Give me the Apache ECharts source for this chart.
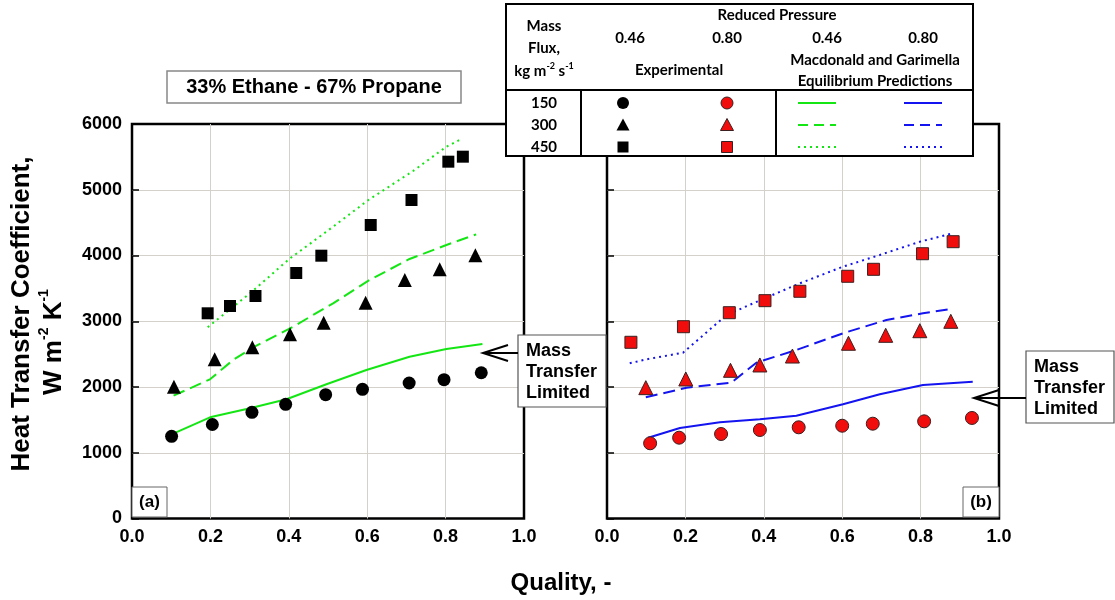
<!DOCTYPE html>
<html>
<head>
<meta charset="utf-8">
<script src="https://cdn.jsdelivr.net/npm/echarts@6/dist/echarts.min.js"></script>
<style>
  html, body { margin: 0; padding: 0; background: #fff; }
  #chart { width: 1115px; height: 600px; }
</style>
</head>
<body>
<div id="chart"></div>
<script>
// Quality (x) vs heat transfer coefficient (W m-2 K-1)
// Panel (a): reduced pressure 0.46, panel (b): reduced pressure 0.80

// Panel (a) – experimental
const a150Exp = [[0.101,1250],[0.205,1430],[0.306,1615],[0.392,1737],[0.494,1883],[0.588,1965],[0.707,2061],[0.796,2111],[0.891,2217]];
const a300Exp = [[0.107,2005],[0.211,2421],[0.307,2604],[0.403,2801],[0.489,2978],[0.596,3282],[0.696,3627],[0.785,3790],[0.876,4003]];
const a450Exp = [[0.193,3121],[0.250,3232],[0.315,3384],[0.419,3734],[0.483,3997],[0.609,4464],[0.713,4844],[0.807,5427],[0.844,5503]];
// Panel (a) – Macdonald and Garimella equilibrium predictions
const a150Model = [[0.101,1280],[0.199,1539],[0.301,1676],[0.394,1813],[0.496,2041],[0.598,2259],[0.708,2461],[0.802,2578],[0.894,2654]];
const a300Model = [[0.106,1868],[0.199,2117],[0.258,2411],[0.309,2604],[0.411,2917],[0.513,3273],[0.606,3627],[0.708,3947],[0.802,4160],[0.878,4322]];
const a450Model = [[0.193,2908],[0.250,3181],[0.309,3465],[0.400,3942],[0.513,4438],[0.603,4844],[0.717,5285],[0.802,5655],[0.840,5772]];

// Panel (b) – experimental
const b150Exp = [[0.110,1144],[0.184,1229],[0.291,1285],[0.390,1346],[0.489,1387],[0.600,1411],[0.678,1442],[0.809,1478],[0.931,1529]];
const b300Exp = [[0.099,1990],[0.201,2122],[0.315,2254],[0.390,2335],[0.473,2471],[0.616,2665],[0.711,2786],[0.798,2856],[0.877,2999]];
const b450Exp = [[0.061,2680],[0.195,2917],[0.312,3130],[0.403,3313],[0.492,3456],[0.614,3684],[0.680,3790],[0.805,4027],[0.883,4210]];
// Panel (b) – Macdonald and Garimella equilibrium predictions
const b150Model = [[0.105,1229],[0.186,1376],[0.288,1463],[0.390,1509],[0.483,1564],[0.602,1737],[0.696,1889],[0.806,2030],[0.933,2081]];
const b300Model = [[0.099,1843],[0.203,1990],[0.317,2065],[0.381,2370],[0.483,2563],[0.602,2817],[0.713,3019],[0.806,3121],[0.878,3186]];
const b450Model = [[0.058,2361],[0.101,2421],[0.194,2522],[0.305,3095],[0.398,3338],[0.492,3577],[0.602,3830],[0.696,4008],[0.798,4210],[0.882,4338]];

// Axis ranges
const xRange = [0, 1, 0.2];
const yRange = [0, 6000, 1000];

// Legend table labels
const massFluxes = ['150', '300', '450'];
const pressures = ['0.46', '0.80'];

const FONT = "'Liberation Sans', Arial, sans-serif";
const LFONT = "Lato, 'Open Sans', sans-serif";
const GREEN = '#14e614';
const BLUE = '#1414f0';
const RED = '#f20d0d';
const GRIDC = '#d3d1ca';
const DASH = [12, 6];
const DOT = [2, 4];

const chart = echarts.init(document.getElementById('chart'));

function xAxis(gi) {
  return {
    type: 'value', gridIndex: gi, min: xRange[0], max: xRange[1], interval: xRange[2],
    axisLine: { show: false },
    axisTick: { show: false },
    splitLine: { show: true, showMinLine: false, showMaxLine: false, lineStyle: { color: GRIDC, width: 1 } },
    axisLabel: { color: '#000', fontFamily: FONT, fontWeight: 'bold', fontSize: 18, margin: 10,
      formatter: v => v.toFixed(1) }
  };
}
function yAxis(gi, showLabels) {
  return {
    type: 'value', gridIndex: gi, min: yRange[0], max: yRange[1], interval: yRange[2],
    axisLine: { show: false },
    axisTick: { show: true, inside: true, length: 7, lineStyle: { color: '#000', width: 1.5 } },
    splitLine: { show: true, showMinLine: false, showMaxLine: false, lineStyle: { color: GRIDC, width: 1 } },
    axisLabel: { show: showLabels, color: '#000', fontFamily: FONT, fontWeight: 'bold', fontSize: 18, margin: 10,
      formatter: v => String(v) }
  };
}

function scatter(data, gi, symbol, size, red) {
  return {
    type: 'scatter', xAxisIndex: gi, yAxisIndex: gi, data, symbol, symbolSize: size, z: 4,
    itemStyle: red ? { color: RED, opacity: 1, borderColor: '#3a2020', borderWidth: 1 } : { color: '#000', opacity: 1 }
  };
}
function line(data, gi, color, dash) {
  return {
    type: 'line', xAxisIndex: gi, yAxisIndex: gi, data, showSymbol: false, z: 3,
    lineStyle: { color, width: 2, type: dash || 'solid' }
  };
}

// Helpers for annotation graphics
const gfx = [];
function txt(x, y, text, size, opts) {
  gfx.push(Object.assign({
    type: 'text', x, y, z: 20,
    style: Object.assign({ text, fill: '#000', font: 'bold ' + size + 'px ' + FONT,
      textAlign: 'center', textVerticalAlign: 'middle' }, (opts && opts.style) || {})
  }, opts && opts.el || {}));
}
function rect(x1, y1, x2, y2, stroke, lw) {
  gfx.push({ type: 'rect', z: 15, shape: { x: x1, y: y1, width: x2 - x1, height: y2 - y1 },
    style: { fill: '#fff', stroke, lineWidth: lw } });
}
function seg(x1, y1, x2, y2, stroke, lw, dash) {
  gfx.push({ type: 'line', z: 21, shape: { x1, y1, x2, y2 },
    style: { stroke, lineWidth: lw, lineDash: dash || null } });
}
function arrow(x1, x2, y) {
  seg(x1, y, x2, y, '#000', 2);
  gfx.push({ type: 'polyline', z: 21, shape: { points: [[x2 + 25, y - 8], [x2, y], [x2 + 25, y + 8]] },
    style: { stroke: '#000', lineWidth: 2, fill: null } });
}
function massBox(x1, y1, x2, y2) {
  rect(x1, y1, x2, y2, '#555', 1.2);
  const lines = ['Mass', 'Transfer', 'Limited'];
  lines.forEach((t, i) => txt(x1 + 8, y1 + 16 + i * 21, t, 18, { style: { textAlign: 'left' } }));
}

// Composition title
rect(167, 71, 461, 103, '#888', 1.5);
txt(314, 87, '33% Ethane - 67% Propane', 20);

// Panel tags
rect(132, 487, 167, 517, '#666', 1);
txt(149.5, 502, '(a)', 17);
rect(963, 487, 999, 517, '#666', 1);
txt(981, 502, '(b)', 17);

// Mass transfer limited call-outs
massBox(518, 335, 606, 407);
arrow(518, 483, 353);
massBox(1026, 351, 1114, 423);
arrow(1026, 974, 398);

// Axis titles
txt(22, 314, 'Heat Transfer Coefficient,', 26, { el: { rotation: Math.PI / 2 } });
gfx.push({
  type: 'text', x: 52, y: 342, z: 20, rotation: Math.PI / 2,
  style: {
    text: '{a|W m}{s|-2}{a| K}{s|-1}', textAlign: 'center', textVerticalAlign: 'middle',
    rich: {
      a: { fontFamily: FONT, fontWeight: 'bold', fontSize: 26, lineHeight: 30, fill: '#000', verticalAlign: 'bottom' },
      s: { fontFamily: FONT, fontWeight: 'bold', fontSize: 14, lineHeight: 30, fill: '#000', verticalAlign: 'top', padding: [0, 0, 12, 0] }
    }
  }
});
txt(561, 583, 'Quality, -', 24);

// Legend table
const L = { x1: 506, y1: 4, x2: 973, y2: 156, mid: 90, v1: 581, v2: 776 };
rect(L.x1, L.y1, L.x2, L.y2, '#000', 2);
seg(L.x1, L.mid, L.x2, L.mid, '#000', 2);
seg(L.v1, L.mid, L.v1, L.y2, '#000', 2);
seg(L.v2, L.mid, L.v2, L.y2, '#000', 2);
function ltxt(x, y, text) {
  gfx.push({ type: 'text', x, y, z: 20,
    style: { text, fill: '#000', font: 'bold 15px ' + LFONT, textAlign: 'center', textVerticalAlign: 'middle' } });
}
ltxt(544, 26, 'Mass');
ltxt(544, 48, 'Flux,');
gfx.push({
  type: 'text', x: 544, y: 71, z: 20,
  style: {
    text: '{a|kg m}{s|-2}{a| s}{s|-1}', textAlign: 'center', textVerticalAlign: 'middle',
    rich: {
      a: { fontFamily: LFONT, fontWeight: 'bold', fontSize: 15, lineHeight: 18, fill: '#000' },
      s: { fontFamily: LFONT, fontWeight: 'bold', fontSize: 9, lineHeight: 18, fill: '#000', verticalAlign: 'top' }
    }
  }
});
ltxt(777, 15, 'Reduced Pressure');
ltxt(630, 38, pressures[0]);
ltxt(727, 38, pressures[1]);
ltxt(827, 38, pressures[0]);
ltxt(923, 38, pressures[1]);
ltxt(679, 70, 'Experimental');
ltxt(875, 60, 'Macdonald and Garimella');
ltxt(875, 81, 'Equilibrium Predictions');

const rowY = [103, 125, 147];
massFluxes.forEach((m, i) => ltxt(544, rowY[i], m));
function legSym(cx, cy, kind, red) {
  const style = red ? { fill: RED, stroke: '#3a2020', lineWidth: 1 } : { fill: '#000' };
  if (kind === 0) gfx.push({ type: 'circle', z: 21, shape: { cx, cy, r: 6 }, style });
  if (kind === 1) gfx.push({ type: 'polygon', z: 21, shape: { points: [[cx, cy - 6.5], [cx + 6.5, cy + 5.5], [cx - 6.5, cy + 5.5]] }, style });
  if (kind === 2) gfx.push({ type: 'rect', z: 21, shape: { x: cx - 5.5, y: cy - 5.5, width: 11, height: 11 }, style });
}
[0, 1, 2].forEach(i => {
  legSym(623, rowY[i], i, false);
  legSym(727, rowY[i], i, true);
  const dash = [null, [10, 6], [2, 4]][i];
  seg(798, rowY[i], 836, rowY[i], GREEN, 2, dash);
  seg(904, rowY[i], 942, rowY[i], BLUE, 2, dash);
});

const option = {
  animation: false,
  backgroundColor: '#fff',
  grid: [
    { left: 132, right: 591, top: 124, bottom: 81.5, show: true, borderColor: '#000', borderWidth: 2.5, backgroundColor: 'transparent' },
    { left: 607, right: 116, top: 124, bottom: 81.5, show: true, borderColor: '#000', borderWidth: 2.5, backgroundColor: 'transparent' }
  ],
  xAxis: [xAxis(0), xAxis(1)],
  yAxis: [yAxis(0, true), yAxis(1, false)],
  series: [
    line(a150Model, 0, GREEN),
    line(a300Model, 0, GREEN, DASH),
    line(a450Model, 0, GREEN, DOT),
    scatter(a150Exp, 0, 'circle', 13, false),
    scatter(a300Exp, 0, 'triangle', 14, false),
    scatter(a450Exp, 0, 'rect', 12, false),
    line(b150Model, 1, BLUE),
    line(b300Model, 1, BLUE, DASH),
    line(b450Model, 1, BLUE, DOT),
    scatter(b150Exp, 1, 'circle', 13, true),
    scatter(b300Exp, 1, 'triangle', 14, true),
    scatter(b450Exp, 1, 'rect', 12, true)
  ],
  graphic: gfx
};
chart.setOption(option);
</script>
</body>
</html>
